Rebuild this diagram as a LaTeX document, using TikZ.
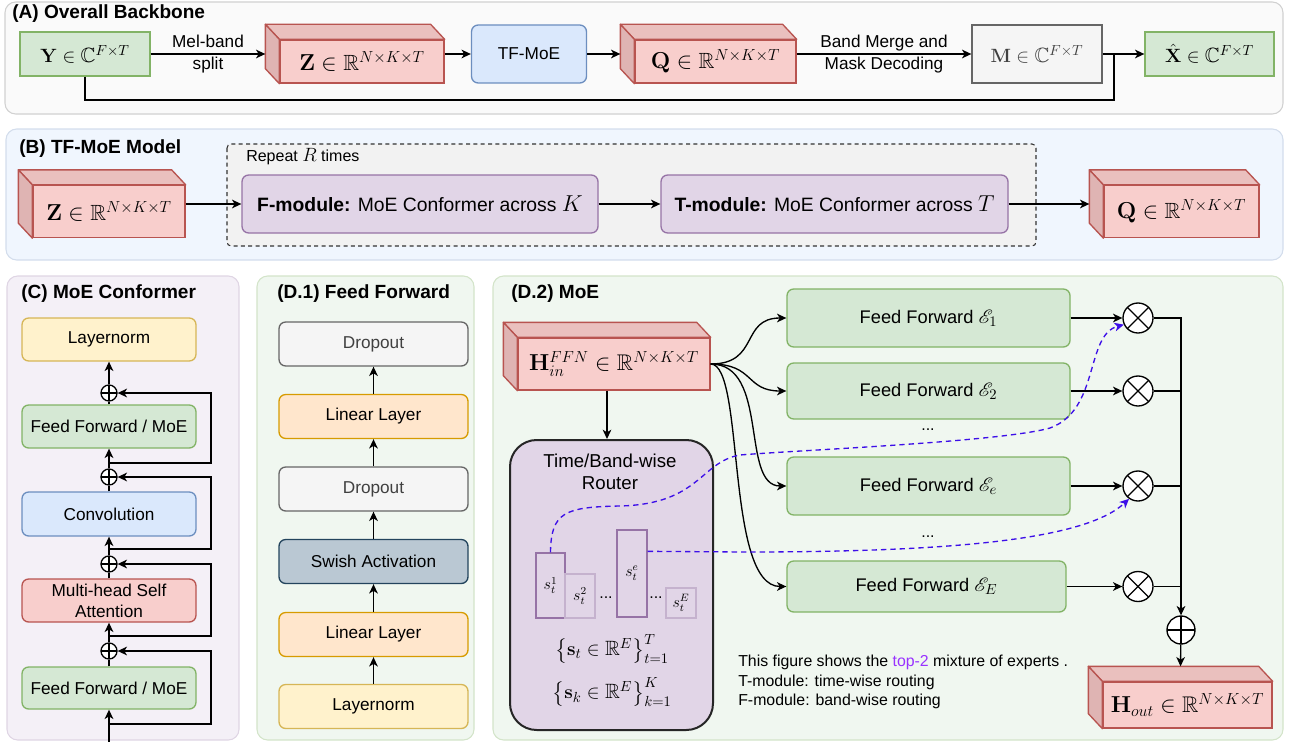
\documentclass[tikz,border=0pt]{standalone}
\usepackage{amsmath,amssymb,mathrsfs}
\usepackage[no-math]{fontspec}
\setmainfont{Liberation Sans}
\usetikzlibrary{arrows.meta,calc}

\definecolor{greenfill}{HTML}{D5E8D4}
\definecolor{greenline}{HTML}{82B366}
\definecolor{redfill}{HTML}{F8CECC}
\definecolor{redline}{HTML}{B85450}
\definecolor{bluefill}{HTML}{DAE8FC}
\definecolor{blueline}{HTML}{6C8EBF}
\definecolor{grayfill}{HTML}{F5F5F5}
\definecolor{grayline}{HTML}{666666}
\definecolor{purpfill}{HTML}{E1D5E7}
\definecolor{purpline}{HTML}{9673A6}
\definecolor{yellfill}{HTML}{FFF2CC}
\definecolor{yellline}{HTML}{D6B656}
\definecolor{orfill}{HTML}{FFE6CC}
\definecolor{orline}{HTML}{D79B00}
\definecolor{swfill}{HTML}{BAC8D3}
\definecolor{swline}{HTML}{23445D}
\definecolor{cubetop}{HTML}{EAC0BE}
\definecolor{cubeside}{HTML}{DFB4B3}
\definecolor{routecol}{HTML}{3D0FE8}
\definecolor{topcol}{HTML}{9933FF}

\newcommand{\mfont}{\fontsize{15.5}{18}\selectfont}
\newcommand{\cfont}{\fontsize{16.5}{19}\selectfont}
\newcommand{\hfont}{\fontsize{17}{20}\selectfont}

\tikzset{
  sz/.style 2 args={minimum width=#1*0.75pt, minimum height=#2*0.75pt},
  blk/.style={draw, line width=1pt, inner sep=1pt, align=center,
    font=\fontsize{12.9}{15.8}\selectfont},
  rblk/.style={blk, rounded corners=5pt},
  fgreen/.style={fill=greenfill, draw=greenline},
  fred/.style={fill=redfill, draw=redline},
  fblue/.style={fill=bluefill, draw=blueline},
  fgray/.style={fill=grayfill, draw=grayline, text=black!75},
  fpurp/.style={fill=purpfill, draw=purpline},
  fyell/.style={fill=yellfill, draw=yellline},
  forange/.style={fill=orfill, draw=orline},
  fswish/.style={fill=swfill, draw=swline},
  cubeedge/.style={draw=redline, line width=1pt, line join=round},
  pnl/.style={line width=0.8pt, rounded corners=8pt},
  ttl/.style={anchor=west, inner sep=0pt, font=\bfseries\fontsize{14.3}{17}\selectfont},
  lbl/.style={align=center, font=\fontsize{12.9}{16.5}\selectfont},
  arr/.style={line width=1pt, -{Stealth[length=7pt,width=6.5pt,inset=2pt]}},
  wire/.style={line width=1pt},
  opl/.style={circle, draw, fill=white, line width=1pt, minimum size=#1, inner sep=0pt,
    path picture={\draw[line width=1pt]
      (path picture bounding box.north) -- (path picture bounding box.south)
      (path picture bounding box.west) -- (path picture bounding box.east);}},
  opl/.default=12pt,
  otm/.style={circle, draw, fill=white, line width=1pt, minimum size=22.5pt, inner sep=0pt,
    path picture={\draw[line width=1pt]
      (path picture bounding box.north west) -- (path picture bounding box.south east)
      (path picture bounding box.north east) -- (path picture bounding box.south west);}},
  router/.style={draw=black!85, fill=purpfill, line width=1.5pt, rounded corners=20pt},
  bar/.style={draw=purpline, line width=1pt, inner sep=0pt, font=\fontsize{12}{14}\selectfont},
  barl/.style={bar, draw=purpline!55},
  route/.style={draw=routecol, line width=1pt, dash pattern=on 4pt off 3pt,
    -{Stealth[length=7pt,width=6.5pt,inset=2pt]}},
}

\newcommand{\cubefaces}[1]{%
  \filldraw[cubeedge, fill=cubetop] (#1.north west) -- ++(-14,-15)
    -- ([shift={(-14,-15)}]#1.north east) -- (#1.north east) -- cycle;
  \filldraw[cubeedge, fill=cubeside] (#1.north west) -- ++(-14,-15)
    -- ([shift={(-14,-15)}]#1.south west) -- (#1.south west) -- cycle;
  \coordinate (#1-w) at ([shift={(-14,-7.5)}]#1.west);
  \coordinate (#1-e) at ([shift={(0,-7.5)}]#1.east);
  \coordinate (#1-n) at ([shift={(-7,-15)}]#1.north);
  \coordinate (#1-s) at ([shift={(-7,0)}]#1.south);
}

\begin{document}
\begin{tikzpicture}[x=0.75pt,y=-0.75pt]
\useasboundingbox (0,0) rectangle (1295,742);

\draw[pnl, fill=black!2, draw=black!18] (5,2) rectangle (1283,114);
\draw[pnl, fill=bluefill!40, draw=blueline!30] (6,129) rectangle (1283,260);
\draw[pnl, fill=purpfill!35, draw=purpline!30] (7,276) rectangle (239,740);
\draw[pnl, fill=greenfill!35, draw=greenline!35] (257,276) rectangle (474,740);
\draw[pnl, fill=greenfill!35, draw=greenline!35] (493,276) rectangle (1283,740);

\node[ttl] (tA) at (12,14) {(A) Overall Backbone};
\node[ttl] (tB) at (19,149) {(B) TF-MoE Model};
\node[ttl] (tC) at (21,294) {(C) MoE Conformer};
\node[ttl] (tD1) at (277,294) {(D.1) Feed Forward};
\node[ttl] (tD2) at (511,294) {(D.2) MoE};

\node[blk, fgreen, sz={130}{44}] (Y) at (85,54) {\mfont $\mathbf{Y}\in\mathbb{C}^{F\times T}$};
\node[blk, fred, sz={164}{43}] (zA) at (362,61.5) {\cfont $\mathbf{Z}\in\mathbb{R}^{N\times K\times T}$};
\cubefaces{zA}
\node[rblk, fblue, sz={115}{58}] (tf) at (529,54) {TF-MoE};
\node[blk, fred, sz={161}{43}] (qA) at (715.5,61.5) {\cfont $\mathbf{Q}\in\mathbb{R}^{N\times K\times T}$};
\cubefaces{qA}
\node[blk, fgray, sz={130}{58}] (M) at (1037,54) {\mfont $\mathbf{M}\in\mathbb{C}^{F\times T}$};
\node[blk, fgreen, sz={129}{44}] (Xh) at (1209.5,54) {\mfont $\hat{\mathbf{X}}\in\mathbb{C}^{F\times T}$};
\coordinate (jA) at (1114,100);

\draw[arr] (Y) -- node[lbl] {Mel-band\\split} (zA-w);
\draw[arr] (zA-e) -- (tf);
\draw[arr] (tf) -- (qA-w);
\draw[arr] (qA-e) -- node[lbl] {Band Merge and\\Mask Decoding} (M);
\draw[arr] (M) -- (Xh);
\draw[wire] (Y.south) |- (jA) -- (jA |- Xh.west);

\draw[draw=black!80, fill=black!5, dash pattern=on 3pt off 2.5pt, line width=0.8pt, rounded corners=3pt] (227,144) rectangle (1036,246);
\node[anchor=west, inner sep=0pt, font=\fontsize{12}{14}\selectfont] (rep) at (246,157) {Repeat {\mfont$R$} times};
\node[blk, fred, sz={152}{52}] (zB) at (109,211.5) {\cfont $\mathbf{Z}\in\mathbb{R}^{N\times K\times T}$};
\cubefaces{zB}
\node[rblk, fpurp, sz={356}{58}, font=\fontsize{14.5}{17}\selectfont] (fm) at (420,204)
  {\textbf{F-module:} MoE Conformer across {\fontsize{17}{19}\selectfont$K$}};
\node[rblk, fpurp, sz={347}{58}, font=\fontsize{14.5}{17}\selectfont] (tm) at (834.5,204)
  {\textbf{T-module:} MoE Conformer across {\fontsize{17}{19}\selectfont$T$}};
\node[blk, fred, sz={155}{52}] (qB) at (1181.5,211.5) {\cfont $\mathbf{Q}\in\mathbb{R}^{N\times K\times T}$};
\cubefaces{qB}

\draw[arr] (zB-e) -- (fm);
\draw[arr] (fm) -- (tm);
\draw[arr] (tm) -- (qB-w);

\node[rblk, fyell, sz={174}{43}] (ln) at (109,339.5) {Layernorm};
\node[opl] (o1) at (109,393) {};
\node[rblk, fgreen, sz={174}{43}] (ff1) at (109,426.5) {Feed Forward / MoE};
\node[opl] (o2) at (109,477) {};
\node[rblk, fblue, sz={174}{44}] (cv) at (109,514) {Convolution};
\node[opl] (o3) at (109,564) {};
\node[rblk, fred, sz={174}{43}] (mh) at (109,600.5) {Multi-head Self\\Attention};
\node[opl] (o4) at (109,651) {};
\node[rblk, fgreen, sz={174}{42}] (ff2) at (109,688) {Feed Forward / MoE};
\coordinate (j1) at (109,463);
\coordinate (j2) at (109,549);
\coordinate (j3) at (109,636);
\coordinate (j4) at (109,724);
\coordinate (cin) at (109,742);
\coordinate (sk) at (211,0);

\draw[arr] (o1) -- (ln);
\draw[wire] (ff1) -- (o1);
\draw[arr] (o2) -- (ff1);
\draw[wire] (cv) -- (o2);
\draw[arr] (o3) -- (cv);
\draw[wire] (mh) -- (o3);
\draw[arr] (o4) -- (mh);
\draw[wire] (ff2) -- (o4);
\draw[arr] (cin) -- (ff2);
\foreach \j/\o in {j1/o1,j2/o2,j3/o3,j4/o4}
  \draw[arr] (\j) -- (\j -| sk) |- (\o.east);

\node[rblk, fgray, sz={189}{44}] (dp1) at (373.5,344) {Dropout};
\node[rblk, forange, sz={189}{44}] (ll1) at (373.5,416.5) {Linear Layer};
\node[rblk, fgray, sz={189}{44}] (dp2) at (373.5,489) {Dropout};
\node[rblk, fswish, sz={189}{44}] (sw) at (373.5,561.5) {Swish Activation};
\node[rblk, forange, sz={189}{44}] (ll2) at (373.5,634.5) {Linear Layer};
\node[rblk, fyell, sz={189}{44}] (ln2) at (373.5,706.5) {Layernorm};
\foreach \a/\b in {ln2/ll2,ll2/sw,sw/dp2,dp2/ll1,ll1/dp1}
  \draw[arr] (\a) -- (\b);

\node[blk, fred, sz={192}{52}] (hin) at (614,364) {\hfont $\mathbf{H}_{in}^{FFN}\in\mathbb{R}^{N\times K\times T}$};
\cubefaces{hin}
\node[router, sz={203}{290}] (rt) at (611.5,585) {};
\node[align=center, font=\fontsize{14}{16.5}\selectfont] (rtl) at (610,472) {Time/Band-wise\\Router};
\node[bar, sz={29}{65}] (s1) at (550.5,585.5) {$s_t^1$};
\node[barl, sz={30}{44}] (s2) at (580,596) {$s_t^2$};
\node[font=\fontsize{12}{14}\selectfont] (d1) at (606,598) {...};
\node[bar, sz={30}{87}] (se) at (632,573.5) {$s_t^e$};
\node[font=\fontsize{12}{14}\selectfont] (d2) at (656,598) {...};
\node[barl, sz={30}{30}] (sE) at (681,603) {$s_t^E$};
\node[inner sep=0pt] (f1) at (612,649) {\mfont $\bigl\{\mathbf{s}_t\in\mathbb{R}^E\bigr\}_{t=1}^T$};
\node[inner sep=0pt] (f2) at (612,692) {\mfont $\bigl\{\mathbf{s}_k\in\mathbb{R}^E\bigr\}_{k=1}^K$};

\node[rblk, fgreen, sz={283}{58}, font=\fontsize{13.7}{16}\selectfont] (e1) at (928.5,318) {Feed Forward {\mfont$\mathscr{E}_1$}};
\node[rblk, fgreen, sz={283}{56}, font=\fontsize{13.7}{16}\selectfont] (e2) at (928.5,391) {Feed Forward {\mfont$\mathscr{E}_2$}};
\node[rblk, fgreen, sz={283}{58}, font=\fontsize{13.7}{16}\selectfont] (ee) at (928.5,486) {Feed Forward {\mfont$\mathscr{E}_e$}};
\node[rblk, fgreen, sz={279}{51}, font=\fontsize{13.7}{16}\selectfont] (eE) at (926.5,586.5) {Feed Forward {\mfont$\mathscr{E}_E$}};
\node[font=\fontsize{12}{14}\selectfont] (d3) at (928,430) {...};
\node[font=\fontsize{12}{14}\selectfont] (d4) at (928,537) {...};
\node[otm] (m1) at (1138,318) {};
\node[otm] (m2) at (1138,391) {};
\node[otm] (me) at (1138,486) {};
\node[otm] (mE) at (1138,586.5) {};
\node[opl=21pt] (sum) at (1181,630) {};
\node[blk, fred, sz={169}{46}] (hout) at (1187.5,705) {\hfont $\mathbf{H}_{out}\in\mathbb{R}^{N\times K\times T}$};
\cubefaces{hout}
\node[anchor=west, align=left, inner sep=0pt, font=\fontsize{11.9}{14.6}\selectfont] (note) at (738,682)
  {This figure shows the \textcolor{topcol}{top-2} mixture of experts .\\
   T-module: time-wise routing\\
   F-module: band-wise routing};

\draw[arr] (hin-s) -- (hin-s |- rt.north);
\draw[arr] (hin.east) .. controls (760,364) and (740,318) .. (e1.west);
\draw[arr] (hin.east) .. controls (755,364) and (745,391) .. (e2.west);
\draw[arr] (hin.east) .. controls (770,364) and (740,486) .. (ee.west);
\draw[arr] (hin.east) .. controls (745,364) and (725,586.5) .. (eE.west);
\foreach \e/\m in {e1/m1,e2/m2,ee/me,eE/mE}
  \draw[arr] (\e) -- (\m);
\draw[arr] (m1) -| (sum);
\foreach \m in {m2,me,mE}
  \draw[wire] (\m) -- (\m -| sum);
\draw[arr] (sum) -- (hout-n);

\draw[route] (s1.north) .. controls (551,512) and (565,507) .. (620,506)
  .. controls (700,504) and (700,462) .. (740,455)
  .. controls (800,450) and (1000,442) .. (1050,428)
  .. controls (1100,410) and (1085,335) .. (m1.205);
\draw[route] ([yshift=-16.5pt]se.north east) -- (745,552)
  .. controls (950,552) and (1085,540) .. (me.235);
\end{tikzpicture}
\end{document}
